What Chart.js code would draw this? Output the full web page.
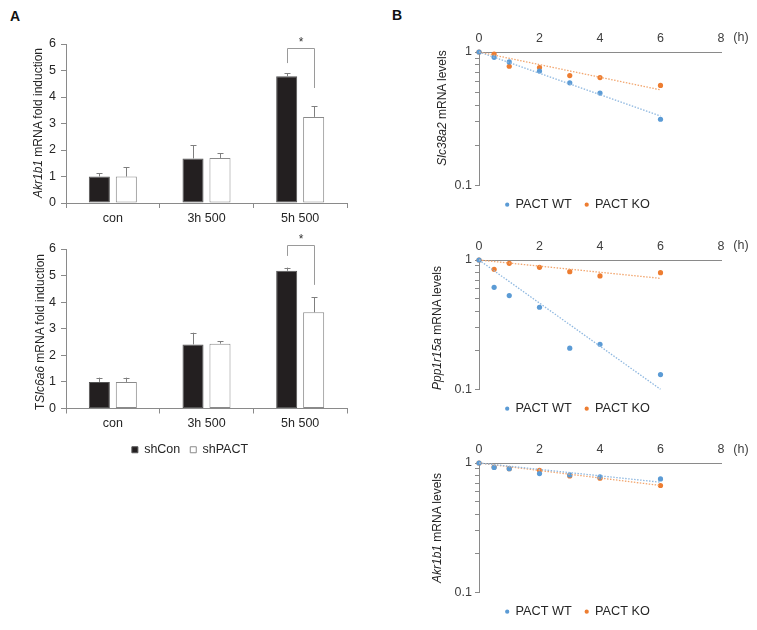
<!DOCTYPE html>
<html>
<head>
<meta charset="utf-8">
<script src="https://cdn.jsdelivr.net/npm/chart.js@4"></script>
<style>
  html, body { margin:0; padding:0; background:#fff; }
  #wrap { position:relative; width:757px; height:630px; overflow:hidden; font-family:"Liberation Sans", Arial, sans-serif; }
  canvas { position:absolute; }
  .lbl { position:absolute; white-space:nowrap; font-size:12px; color:#262626; transform:translate(-50%,-50%) rotate(-90deg); }
  .panel { position:absolute; font-weight:bold; font-size:14px; color:#111; }
  .unit { position:absolute; font-size:12.5px; color:#404040; transform:translate(-50%,-50%); }
</style>
</head>
<body>
<div id="wrap">
  <div class="panel" style="left:10px;top:8px;">A</div>
  <div class="panel" style="left:392px;top:7px;">B</div>
  <canvas id="c1" width="380" height="235" style="left:0;top:0;"></canvas>
  <canvas id="c2" width="380" height="250" style="left:0;top:220px;"></canvas>
  <canvas id="c3" width="357" height="221" style="left:400px;top:0;"></canvas>
  <canvas id="c4" width="357" height="217" style="left:400px;top:208px;"></canvas>
  <canvas id="c5" width="357" height="217" style="left:400px;top:411px;"></canvas>
  <div class="lbl" style="left:38px;top:123px;"><i>Akr1b1</i> mRNA fold induction</div>
  <div class="lbl" style="left:40px;top:332px;">T<i>Slc6a6</i> mRNA fold induction</div>
  <div class="lbl" style="left:442px;top:108px;"><i>Slc38a2</i> mRNA levels</div>
  <div class="lbl" style="left:437px;top:328px;"><i>Ppp1r15a</i> mRNA levels</div>
  <div class="lbl" style="left:437px;top:528px;"><i>Akr1b1</i> mRNA levels</div>
  <div class="unit" style="left:741px;top:37px;">(h)</div>
  <div class="unit" style="left:741px;top:245px;">(h)</div>
  <div class="unit" style="left:741px;top:449px;">(h)</div>
</div>
<script>
// ---------- Panel A data ----------
const categories = ['con', '3h 500', '5h 500'];
const akrShCon      = [1.00, 1.68, 4.78];
const akrShConErr   = [0.13, 0.50, 0.12];
const akrShPACT     = [1.00, 1.70, 3.25];
const akrShPACTErr  = [0.35, 0.18, 0.40];
const akrBracket    = [5.86, 5.28, 4.34]; // top, left leg end, right leg end
const slcShCon      = [1.00, 2.41, 5.18];
const slcShConErr   = [0.16, 0.44, 0.12];
const slcShPACT     = [1.00, 2.44, 3.62];
const slcShPACTErr  = [0.16, 0.09, 0.56];
const slcBracket    = [6.15, 5.74, 4.65];
const barTicks      = [0, 1, 2, 3, 4, 5, 6];

// ---------- Panel B data ----------
const hours = [0, 0.5, 1, 2, 3, 4, 6];
const slc38WT = [1.00, 0.912, 0.843, 0.720, 0.587, 0.492, 0.313];
const slc38KO = [1.00, 0.966, 0.782, 0.764, 0.666, 0.643, 0.561];
const slc38TrendWT = [1.00, 0.331];
const slc38TrendKO = [1.00, 0.520];
const pppWT = [1.00, 0.615, 0.531, 0.431, 0.208, 0.223, 0.130];
const pppKO = [1.00, 0.847, 0.942, 0.877, 0.813, 0.753, 0.798];
const pppTrendWT = [1.00, 0.100];
const pppTrendKO = [1.00, 0.721];
const akrWT = [1.00, 0.925, 0.904, 0.828, 0.809, 0.780, 0.753];
const akrKO = [1.00, 0.930, 0.904, 0.877, 0.795, 0.762, 0.670];
const akrTrendWT = [1.00, 0.710];
const akrTrendKO = [1.00, 0.670];
const trendHours = [0, 6];
const hourTicks = [0, 2, 4, 6, 8];
const logTicks = [0.1, 0.2, 0.3, 0.4, 0.5, 0.6, 0.7, 0.8, 0.9, 1];

const FONT = "'Liberation Sans', Arial, sans-serif";
const AXIS = '#8a8a8a';
const BLUE = '#5B9BD5';
const ORANGE = '#ED7D31';

// error bar + significance bracket plugin
const annot = {
  id: 'annot',
  afterDatasetsDraw(chart) {
    const ctx = chart.ctx;
    const ys = chart.scales.y;
    ctx.save();
    ctx.strokeStyle = '#7f7f7f';
    ctx.lineWidth = 1;
    chart.data.datasets.forEach((ds, di) => {
      const meta = chart.getDatasetMeta(di);
      meta.data.forEach((bar, i) => {
        const v = ds.data[i], e = ds.errors[i];
        const y0 = ys.getPixelForValue(v), y1 = ys.getPixelForValue(v + e);
        ctx.beginPath();
        ctx.moveTo(Math.round(bar.x) + 0.5, y0);
        ctx.lineTo(Math.round(bar.x) + 0.5, y1);
        ctx.moveTo(Math.round(bar.x) - 2.5, Math.round(y1) + 0.5);
        ctx.lineTo(Math.round(bar.x) + 3.5, Math.round(y1) + 0.5);
        ctx.stroke();
      });
    });
    const br = chart.options.plugins.annot.bracket;
    const xa = Math.round(chart.getDatasetMeta(0).data[2].x) + 0.5;
    const xb = Math.round(chart.getDatasetMeta(1).data[2].x) + 0.5;
    const yt = Math.round(ys.getPixelForValue(br[0])) + 0.5;
    ctx.strokeStyle = '#9a9a9a';
    ctx.beginPath();
    ctx.moveTo(xa, ys.getPixelForValue(br[1]));
    ctx.lineTo(xa, yt);
    ctx.lineTo(xb, yt);
    ctx.lineTo(xb, ys.getPixelForValue(br[2]));
    ctx.stroke();
    ctx.fillStyle = '#333';
    ctx.font = '12px ' + FONT;
    ctx.textAlign = 'center';
    ctx.textBaseline = 'bottom';
    ctx.fillText('*', (xa + xb) / 2, yt);
    ctx.restore();
  }
};

function barChart(id, d1, e1, d2, e2, bracket, pad, withLegend) {
  return new Chart(document.getElementById(id), {
    type: 'bar',
    data: {
      labels: categories,
      datasets: [
        { label: 'shCon', data: d1, errors: e1, backgroundColor: '#231f20', borderColor: '#555', borderWidth: 1, borderSkipped: false },
        { label: 'shPACT', data: d2, errors: e2, backgroundColor: '#ffffff', borderColor: '#8a8a8a', borderWidth: 1, borderSkipped: false }
      ]
    },
    plugins: [annot],
    options: {
      responsive: false, animation: false,
      layout: { padding: pad },
      datasets: { bar: { categoryPercentage: 0.576, barPercentage: 0.78 } },
      plugins: {
        tooltip: { enabled: false },
        annot: { bracket: bracket },
        legend: {
          display: withLegend, position: 'bottom',
          labels: { boxWidth: 6, boxHeight: 6, padding: 10, color: '#262626', font: { family: FONT, size: 12.5 } }
        }
      },
      scales: {
        x: {
          grid: { display: true, drawOnChartArea: false, offset: true, tickLength: 5, color: AXIS },
          border: { display: true, color: AXIS },
          ticks: { color: '#262626', padding: 3, font: { family: FONT, size: 12.5 } },
          afterFit: s => { s.height = 25; }
        },
        y: {
          min: 0, max: 6,
          afterBuildTicks: s => { s.ticks = barTicks.map(v => ({ value: v })); },
          grid: { display: true, drawOnChartArea: false, tickLength: 5, color: AXIS },
          border: { display: true, color: AXIS },
          ticks: { color: '#262626', padding: 5, font: { family: FONT, size: 12.5 } },
          afterFit: s => { s.width = 33; }
        }
      }
    }
  });
}

barChart('c1', akrShCon, akrShConErr, akrShPACT, akrShPACTErr, akrBracket, { left: 33, right: 33, top: 44, bottom: 7 }, false);
barChart('c2', slcShCon, slcShConErr, slcShPACT, slcShPACTErr, slcBracket, { left: 33, right: 33, top: 29, bottom: 4 }, true);

function decayChart(id, wt, ko, twt, tko) {
  const pts = arr => hours.map((h, i) => ({ x: h, y: arr[i] }));
  const tr = arr => trendHours.map((h, i) => ({ x: h, y: arr[i] }));
  return new Chart(document.getElementById(id), {
    type: 'scatter',
    data: {
      datasets: [
        { label: 'trendWT', data: tr(twt), showLine: true, borderColor: '#8fb8e0', borderWidth: 1.3, borderDash: [1.5, 1.5], pointRadius: 0, clip: false },
        { label: 'trendKO', data: tr(tko), showLine: true, borderColor: '#f2a66f', borderWidth: 1.3, borderDash: [1.5, 1.5], pointRadius: 0, clip: false },
        { label: 'PACT WT', data: pts(wt), backgroundColor: BLUE, borderColor: BLUE, pointRadius: 2.6, borderWidth: 0, clip: false },
        { label: 'PACT KO', data: pts(ko), backgroundColor: ORANGE, borderColor: ORANGE, pointRadius: 2.6, borderWidth: 0, clip: false }
      ]
    },
    options: {
      responsive: false, animation: false,
      layout: { padding: { left: 34, right: 36, top: 0, bottom: 0 } },
      plugins: {
        tooltip: { enabled: false },
        legend: {
          position: 'bottom',
          labels: {
            usePointStyle: true, pointStyle: 'circle', boxWidth: 4, boxHeight: 3, padding: 13,
            color: '#262626', font: { family: FONT, size: 12.7 },
            filter: item => item.text.indexOf('PACT') === 0
          }
        }
      },
      scales: {
        x: {
          type: 'linear', position: 'top', min: 0, max: 8,
          afterBuildTicks: s => { s.ticks = hourTicks.map(v => ({ value: v })); },
          grid: { display: false, drawTicks: false, tickLength: 0 },
          border: { display: true, color: AXIS },
          ticks: { color: '#404040', padding: 6, font: { family: FONT, size: 12.5 } },
          afterFit: s => { s.height = 52; }
        },
        y: {
          type: 'logarithmic', min: 0.1, max: 1,
          afterBuildTicks: s => { s.ticks = logTicks.map(v => ({ value: v })); },
          grid: { display: true, drawOnChartArea: false, tickLength: 4, color: AXIS },
          border: { display: true, color: AXIS },
          ticks: {
            color: '#404040', padding: 3, autoSkip: false, font: { family: FONT, size: 12.5 },
            callback: v => (Math.abs(v - 1) < 1e-9 ? '1' : (Math.abs(v - 0.1) < 1e-9 ? '0.1' : ''))
          },
          afterFit: s => { s.width = 45; }
        }
      }
    }
  });
}

decayChart('c3', slc38WT, slc38KO, slc38TrendWT, slc38TrendKO);
decayChart('c4', pppWT, pppKO, pppTrendWT, pppTrendKO);
decayChart('c5', akrWT, akrKO, akrTrendWT, akrTrendKO);
</script>
</body>
</html>
